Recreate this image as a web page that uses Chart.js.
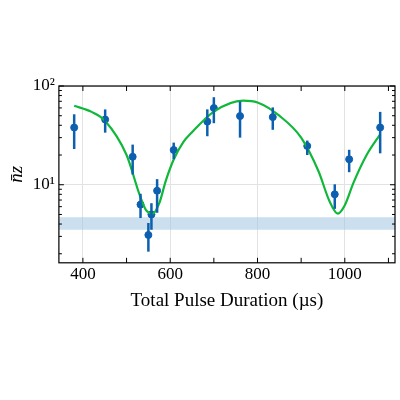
<!DOCTYPE html>
<html>
<head>
<script src="https://cdn.jsdelivr.net/npm/chart.js@4"></script>
<style>
  body { margin: 0; background: #fff; }
  #wrap { width: 400px; height: 400px; }
</style>
</head>
<body>
<div id="wrap"><canvas id="chart"></canvas></div>
<script>
// measured points
const durations = [380, 451, 514, 532, 550, 557, 570, 608, 685, 700, 760, 835, 914, 977, 1010, 1081]
const nz = [38, 45.8, 19.2, 6.3, 3.1, 5.0, 8.7, 22.5, 43.6, 59.8, 49.6, 48.4, 24.7, 8.0, 18.1, 38]
const nzHigh = [51.7, 57.9, 25.5, 8.1, 4.1, 6.5, 11.4, 26.7, 58, 77, 69.6, 60.7, 28.0, 10.1, 22.6, 54.7]
const nzLow = [23, 33.7, 12.7, 4.6, 2.1, 3.5, 5.2, 18.2, 31, 42, 30, 36, 20, 5.7, 13.4, 20.8]

// fit curve
const fitX = [380, 420, 450, 500, 530, 545, 560, 575, 590, 608, 630, 650, 700, 767, 800, 850, 900, 940, 965, 984, 1000, 1020, 1050, 1081]
const fitY = [63, 54.7, 44.7, 20, 7.9, 5.5, 5.1, 6.5, 11, 18, 27, 34, 55, 71, 68, 50, 30, 13.6, 6.8, 5.1, 6.2, 10.5, 20, 32.4]

const bandLow = 3.5
const bandHigh = 4.69
const yTicks = [2, 3, 4, 5, 6, 7, 8, 9, 10, 20, 30, 40, 50, 60, 70, 80, 90, 100]
const xTicks = [400, 500, 600, 700, 800, 900, 1000, 1100]

const serif = "'Liberation Serif', serif"

const isMajor = v => {
    const l = Math.log10(Number(v))
    return Math.abs(l - Math.round(l)) < 1e-6
}
const ctxTickValue = c => (c.tick ? c.tick.value : NaN)

const extras = {
    id: 'extras',
    beforeDatasetsDraw(chart) {
        const { ctx, chartArea: a, scales: { y } } = chart
        const t = y.getPixelForValue(bandHigh)
        const b = y.getPixelForValue(bandLow)
        ctx.save()
        ctx.fillStyle = 'rgba(160,196,226,0.55)'
        ctx.fillRect(a.left, t, a.right - a.left, b - t)
        ctx.restore()
    },
    afterDatasetsDraw(chart) {
        const { ctx, chartArea: a, scales: { x, y } } = chart
        ctx.save()
        ctx.strokeStyle = '#0d5fb0'
        ctx.lineWidth = 2.5
        durations.forEach((d, i) => {
            const px = x.getPixelForValue(d)
            ctx.beginPath()
            ctx.moveTo(px, y.getPixelForValue(nzLow[i]))
            ctx.lineTo(px, y.getPixelForValue(nzHigh[i]))
            ctx.stroke()
        })
        // inward ticks on all four sides
        ctx.strokeStyle = '#000'
        ctx.lineWidth = 1
        ctx.beginPath()
        xTicks.forEach(v => {
            const px = x.getPixelForValue(v)
            ctx.moveTo(px, a.bottom); ctx.lineTo(px, a.bottom - 5)
            ctx.moveTo(px, a.top); ctx.lineTo(px, a.top + 5)
        })
        yTicks.forEach(v => {
            const py = y.getPixelForValue(v)
            const len = isMajor(v) ? 5 : 3
            ctx.moveTo(a.left, py); ctx.lineTo(a.left + len, py)
            ctx.moveTo(a.right, py); ctx.lineTo(a.right - len, py)
        })
        ctx.stroke()
        ctx.lineWidth = 1.2
        ctx.strokeRect(a.left, a.top, a.right - a.left, a.bottom - a.top)
        ctx.restore()
    }
}

new Chart(document.getElementById('chart'), {
    type: 'scatter',
    data: {
        datasets: [{
            type: 'line',
            data: fitX.map((v, i) => ({ x: v, y: fitY[i] })),
            borderColor: '#10b83a',
            borderWidth: 2.2,
            pointRadius: 0,
            cubicInterpolationMode: 'monotone',
            fill: false
        }, {
            data: durations.map((v, i) => ({ x: v, y: nz[i] })),
            backgroundColor: '#0d5fb0',
            borderColor: '#0d5fb0',
            pointRadius: 3.5
        }]
    },
    options: {
        responsive: true,
        maintainAspectRatio: false,
        animation: false,
        layout: { padding: { top: 86, bottom: 84, left: 2, right: 0 } },
        plugins: { legend: { display: false }, tooltip: { enabled: false } },
        scales: {
            x: {
                type: 'linear',
                min: 345,
                max: 1115,
                afterBuildTicks: s => { s.ticks = xTicks.map(v => ({ value: v })) },
                ticks: {
                    color: '#000',
                    font: { family: serif, size: 17 },
                    padding: 2,
                    maxRotation: 0,
                    autoSkip: false,
                    callback: v => (v % 200 === 0 ? v : '')
                },
                grid: { color: c => (ctxTickValue(c) % 200 === 0 ? '#e2e2e2' : 'rgba(0,0,0,0)'), drawTicks: false },
                border: { display: false },
                title: { display: true, text: 'Total Pulse Duration (µs)', color: '#000', font: { family: serif, size: 19 }, padding: { top: 2 } }
            },
            y: {
                type: 'logarithmic',
                min: 1.62,
                max: 100,
                afterBuildTicks: s => { s.ticks = yTicks.map(v => ({ value: v })) },
                ticks: {
                    color: '#000',
                    font: { family: serif, size: 17 },
                    padding: 4,
                    autoSkip: false,
                    callback: function (v) {
                        const n = Number(v)
                        if (!isMajor(n)) return ''
                        return Math.round(Math.log10(n)) === 1 ? '10¹' : '10²'
                    }
                },
                grid: { color: c => (isMajor(ctxTickValue(c)) ? '#e2e2e2' : 'rgba(0,0,0,0)'), drawTicks: false },
                border: { display: false },
                title: { display: true, text: 'n̄z', color: '#000', font: { family: serif, size: 19, style: 'italic' }, padding: { bottom: 0 } }
            }
        }
    },
    plugins: [extras]
})
</script>
</body>
</html>
